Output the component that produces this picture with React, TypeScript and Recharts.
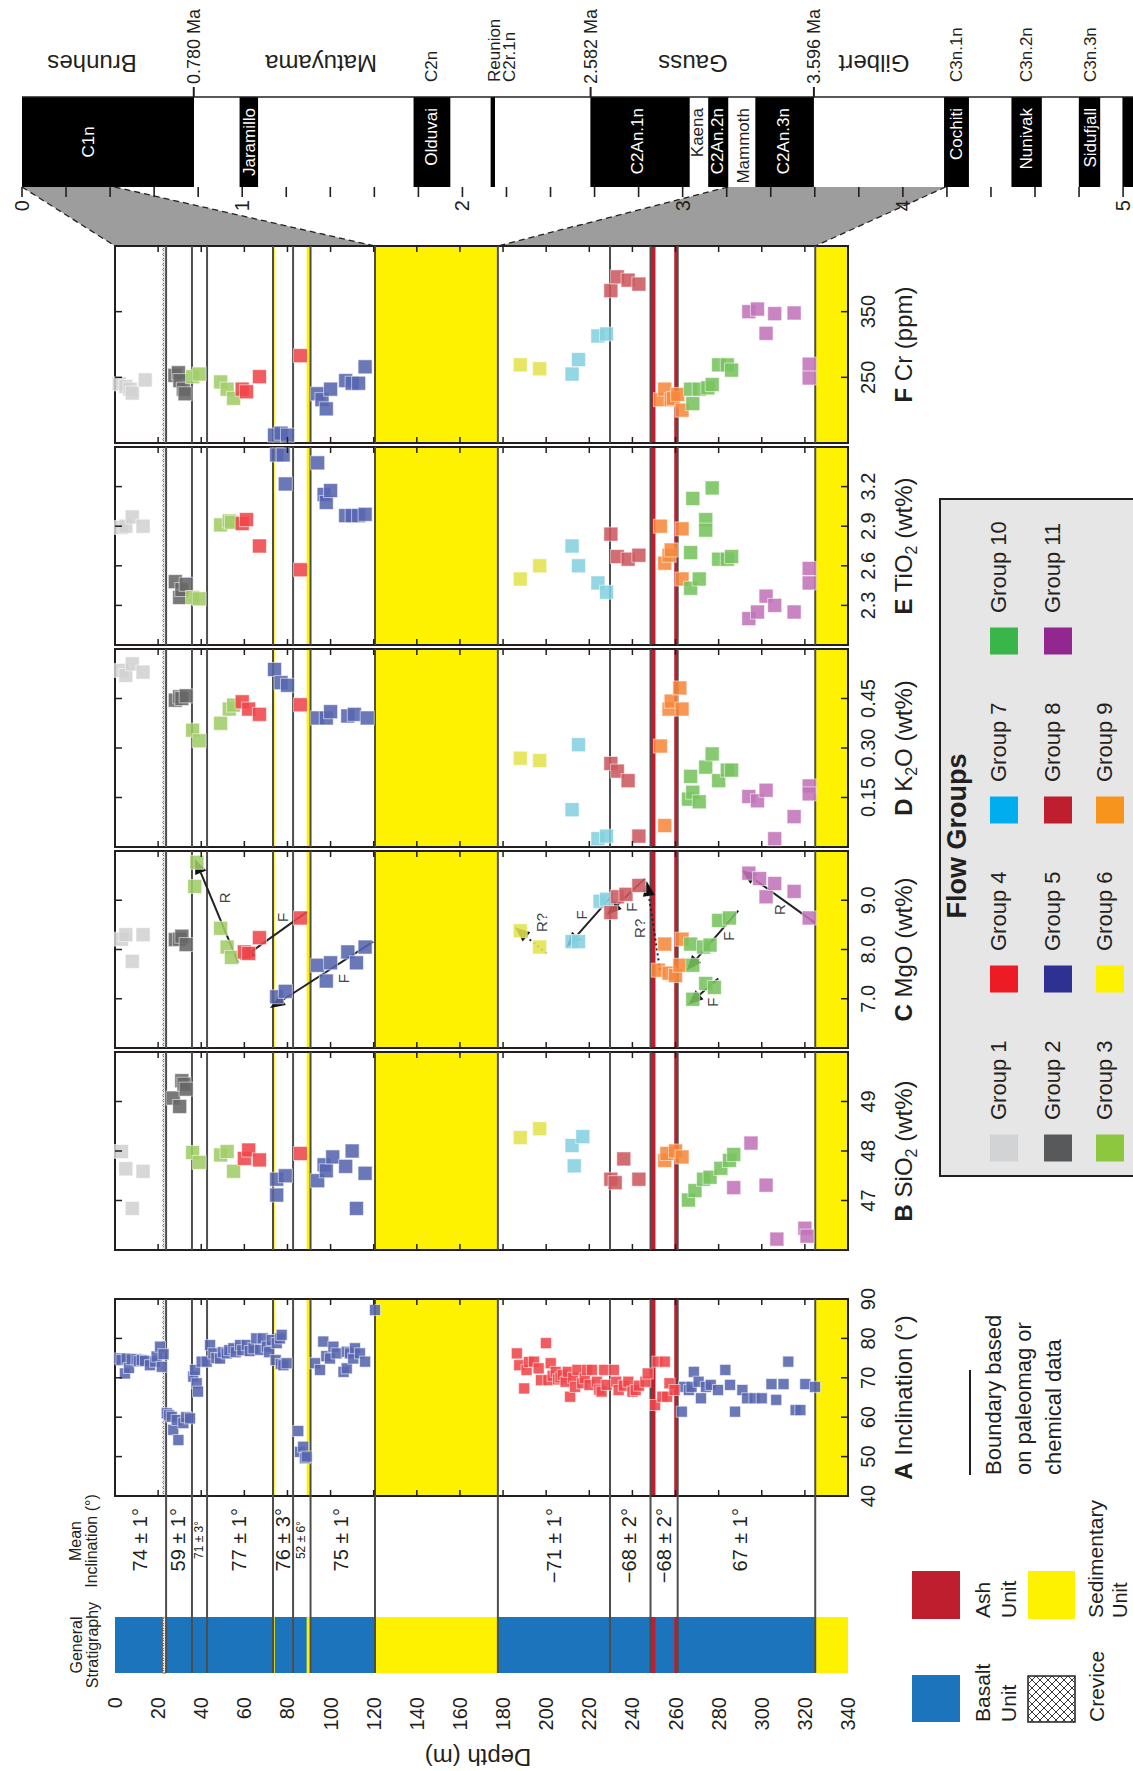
import React from 'react';
import {
  ComposedChart, ScatterChart, Scatter, Area, XAxis, YAxis,
  ReferenceArea, ReferenceLine, ReferenceDot,
} from 'recharts';

const FONT = '"Liberation Sans", Arial, Helvetica, sans-serif';
const INK = '#231f20';
const LINE = '#4d4d4d';
const YELLOW = '#fff200';
const BASALT = '#1c75bc';
const ASH = '#be1e2d';

// page frames
const DX0 = 115;
const DW = 733;
const AX0 = 22;
const AGE_MAX = 5.045;
const AGE_PX = 220.2;
const PM = 14;

// ---------------- time scale ----------------
const chronsNormal = [
  [0, 0.781], [0.988, 1.072], [1.778, 1.945], [2.128, 2.148], [2.581, 3.032],
  [3.116, 3.207], [3.33, 3.596], [4.187, 4.3], [4.493, 4.631], [4.799, 4.896], [4.997, 5.235],
];
// age, label in bar, label above bar, style
const chronLabels: [number, string, string, string][] = [
  [0.3, 'C1n', '', 'c'],
  [1.033, 'Jaramillo', '', 'w'],
  [1.858, 'Olduvai', 'C2n', 'w'],
  [2.142, '', 'Reunion|C2r.1n', 'w'],
  [2.792, 'C2An.1n', '', 'w'],
  [3.065, 'Kaena', '', 'k'],
  [3.156, 'C2An.2n', '', 'w'],
  [3.273, 'Mammoth', '', 'k'],
  [3.456, 'C2An.3n', '', 'w'],
  [4.24, 'Cochiti', 'C3n.1n', 'w'],
  [4.56, 'Nunivak', 'C3n.2n', 'w'],
  [4.85, 'Sidufjall', 'C3n.3n', 'w'],
];
const epochs: [string, number][] = [['Brunhes', 0.318], ['Matuyama', 1.358], ['Gauss', 3.047], ['Gilbert', 3.869]];
const boundaryAges = [0.78, 2.582, 3.596];
const boundaryAgeText = ['0.780 Ma', '2.582 Ma', '3.596 Ma'];
const ageTicks = Array.from({ length: 26 }, (_, i) => i / 5);

// age <-> depth ties (age range at top, depth range at bottom)
const tieAges = [[0, 0.421], [3.206, 4.194]];
const tieDepths = [[0, 120.6], [177.6, 324.8]];

// ---------------- stratigraphy ----------------
const basaltUnits = [[0, 120.6], [177.6, 324.8]];
const sedUnits = [[120.6, 177.6], [324.8, 340]];
const thinSed = [[73.1, 74.1], [88.9, 90.6]];
const ashUnits = [[248.3, 250.7], [259.4, 260.7]];
const crevice = [22.0, 23.7];
const boundaries = [23.7, 35.7, 42.7, 73.3, 82.6, 90.7, 120.6, 177.6, 229.6, 248.4, 261.0, 324.8];
const depthTicks = [20, 40, 60, 80, 100, 120, 140, 160, 180, 200, 220, 240, 260, 280, 300, 320];
const depthLabels = [0, 20, 40, 60, 80, 100, 120, 140, 160, 180, 200, 220, 240, 260, 280, 300, 320, 340];
const meanIncl: [number, string, number][] = [
  [11.6, '74 \u00b1 1\u00b0', 0], [29, '59 \u00b1 1\u00b0', 0], [39, '71 \u00b1 3\u00b0', 1],
  [57.7, '77 \u00b1 1\u00b0', 0], [77.7, '76 \u00b1 3\u00b0', 0], [86.3, '52 \u00b1 6\u00b0', 1],
  [104.6, '75 \u00b1 1\u00b0', 0], [203.6, '\u221271 \u00b1 1\u00b0', 0], [238.4, '\u221268 \u00b1 2\u00b0', 0],
  [254.6, '\u221268 \u00b1 2\u00b0', 0], [290.1, '67 \u00b1 1\u00b0', 0],
];

// ---------------- flow groups ----------------
const GROUP_FILL = ['#d1d3d4', '#58595b', '#8dc63f', '#ed1c24', '#2e3192', '#fff200', '#00aeef', '#be1e2d', '#f7941d', '#39b54a', '#92278f'];
const POINT_FILL = ['#d2d2d2', '#676767', '#a2cd68', '#ef454a', '#5765ae', '#e2e34f', '#85d0df', '#cc5a60', '#f7893b', '#78c35f', '#c274b8'];

// [group, depth m, value]
const crPts = [
  [1, 2, 240], [1, 5, 236], [1, 7, 232], [1, 8, 226], [1, 14, 246],
  [2, 27.8, 253], [2, 29.4, 257], [2, 30.1, 245], [2, 31.7, 232], [2, 32.5, 225],
  [3, 36, 251], [3, 39, 255], [3, 49, 243], [3, 52, 232], [3, 55, 218],
  [4, 59, 232], [4, 61, 228], [4, 67, 251], [4, 86, 283],
  [5, 74, 162], [5, 77, 165], [5, 80, 162], [5, 94, 225], [5, 96, 216], [5, 98, 202], [5, 100, 232],
  [5, 107, 245], [5, 110, 241], [5, 113, 241], [5, 116, 266],
  [6, 188, 269], [6, 197, 263],
  [7, 212, 255], [7, 215, 277], [7, 224, 313], [7, 228, 316],
  [8, 230, 382], [8, 233, 403], [8, 238, 398], [8, 243, 392],
  [9, 253, 216], [9, 255, 232], [9, 258, 216], [9, 259, 218], [9, 261, 224], [9, 263, 200],
  [10, 267, 232], [10, 268, 210], [10, 271, 232], [10, 275, 234], [10, 277, 239], [10, 280, 269], [10, 284, 269], [10, 286, 261],
  [11, 294, 350], [11, 298, 354], [11, 302, 317], [11, 306, 347], [11, 315, 348], [11, 322, 270], [11, 322, 249],
];
const tiPts = [
  [1, 3, 2.89], [1, 5, 2.9], [1, 8, 2.97], [1, 13, 2.9],
  [2, 28, 2.48], [2, 30, 2.36], [2, 31, 2.42], [2, 33, 2.46],
  [3, 36, 2.36], [3, 39, 2.35], [3, 49, 2.91], [3, 53, 2.94], [3, 54, 2.93],
  [4, 59, 2.92], [4, 61, 2.95], [4, 67, 2.75], [4, 86, 2.57],
  [5, 75, 3.44], [5, 78, 3.44], [5, 79, 3.22], [5, 94, 3.38], [5, 97, 3.14], [5, 98, 3.08], [5, 100, 3.17],
  [5, 107, 2.98], [5, 110, 2.98], [5, 113, 2.98], [5, 116, 2.99],
  [6, 188, 2.5], [6, 197, 2.6],
  [7, 212, 2.75], [7, 215, 2.6], [7, 224, 2.47], [7, 228, 2.4],
  [8, 230, 2.84], [8, 233, 2.67], [8, 238, 2.65], [8, 243, 2.68],
  [9, 253, 2.9], [9, 255, 2.62], [9, 257, 2.68], [9, 258, 2.72], [9, 263, 2.88], [9, 263, 2.5],
  [10, 267, 2.43], [10, 267, 2.7], [10, 268, 3.11], [10, 271, 2.5], [10, 274, 2.95], [10, 274, 2.87],
  [10, 277, 3.19], [10, 280, 2.65], [10, 284, 2.65], [10, 286, 2.67],
  [11, 294, 2.2], [11, 298, 2.25], [11, 302, 2.37], [11, 306, 2.3], [11, 315, 2.25], [11, 322, 2.58], [11, 322, 2.47],
];
const k2oPts = [
  [1, 3, 0.535], [1, 5, 0.52], [1, 8, 0.555], [1, 13, 0.53],
  [2, 28, 0.445], [2, 30, 0.455], [2, 31, 0.45], [2, 33, 0.458],
  [3, 36, 0.354], [3, 39, 0.322], [3, 49, 0.375], [3, 53, 0.418], [3, 55, 0.43],
  [4, 59, 0.44], [4, 62, 0.418], [4, 67, 0.402], [4, 86, 0.431],
  [5, 74, 0.538], [5, 77, 0.498], [5, 80, 0.49], [5, 94, 0.391], [5, 98, 0.391], [5, 100, 0.41],
  [5, 108, 0.397], [5, 111, 0.402], [5, 117, 0.391],
  [6, 188, 0.269], [6, 197, 0.262],
  [7, 212, 0.113], [7, 215, 0.31], [7, 224, 0.025], [7, 228, 0.033],
  [8, 230, 0.253], [8, 233, 0.23], [8, 238, 0.201], [8, 243, 0.033],
  [9, 253, 0.306], [9, 255, 0.065], [9, 257, 0.418], [9, 258, 0.442], [9, 262, 0.482], [9, 263, 0.418],
  [10, 266, 0.145], [10, 267, 0.214], [10, 268, 0.166], [10, 271, 0.137], [10, 274, 0.242], [10, 277, 0.282],
  [10, 280, 0.201], [10, 284, 0.233], [10, 286, 0.233],
  [11, 294, 0.153], [11, 298, 0.14], [11, 302, 0.172], [11, 306, 0.025], [11, 315, 0.092], [11, 322, 0.185], [11, 322, 0.161],
];
const mgoPts = [
  [1, 3, 8.21], [1, 5, 8.3], [1, 8, 7.76], [1, 13, 8.3],
  [2, 28, 8.2], [2, 30, 8.21], [2, 31, 8.27], [2, 33, 8.1],
  [3, 37, 9.28], [3, 38, 9.77], [3, 49, 8.43], [3, 52, 8.05], [3, 54, 7.84],
  [4, 60, 7.95], [4, 62, 7.92], [4, 67, 8.24], [4, 86, 8.64],
  [5, 75, 7.04], [5, 79, 7.15], [5, 94, 7.68], [5, 98, 7.36], [5, 100, 7.73], [5, 108, 7.95], [5, 112, 7.73], [5, 116, 8.05],
  [6, 188, 8.38], [6, 197, 8.05],
  [7, 212, 8.16], [7, 215, 8.16], [7, 225, 8.98], [7, 228, 9.02],
  [8, 230, 8.75], [8, 233, 9.07], [8, 237, 9.12], [8, 243, 9.3],
  [9, 252, 7.58], [9, 255, 8.11], [9, 257, 7.52], [9, 260, 7.47], [9, 262, 7.68], [9, 263, 8.21],
  [10, 267, 8.11], [10, 268, 7.68], [10, 268, 6.99], [10, 273, 8.05], [10, 274, 7.31], [10, 276, 8.09],
  [10, 278, 7.23], [10, 280, 8.59], [10, 285, 8.64],
  [11, 294, 9.55], [11, 299, 9.44], [11, 302, 9.07], [11, 306, 9.34], [11, 315, 9.18], [11, 322, 8.64],
];
// [fromDepth, fromMgO, toDepth, toMgO, label, labelDepth, labelMgO, dotted]
const mgoArrows: [number, number, number, number, string, number, number, number][] = [
  [57.2, 7.73, 37.1, 9.84, 'R', 50.6, 9.05, 0],
  [89.2, 8.77, 58, 7.79, 'F', 77.8, 8.65, 0],
  [119.8, 8.16, 71.9, 6.81, 'F', 105.9, 7.41, 0],
  [200.2, 7.92, 185.5, 8.45, 'R?', 197.9, 8.55, 1],
  [231.1, 9.12, 209.5, 8.05, 'F', 216.5, 8.7, 0],
  [245.8, 9.44, 228.1, 8.7, 'F', 239.7, 8.86, 0],
  [252.8, 7.58, 246.6, 9.39, 'R?', 243.3, 8.43, 1],
  [289.1, 8.79, 265.2, 7.58, 'F', 284.5, 8.27, 0],
  [279.8, 7.41, 265.9, 6.88, 'F', 277.2, 6.93, 0],
  [324.7, 8.54, 290.7, 9.61, 'R', 308.4, 8.81, 0],
];
const sio2Pts = [
  [1, 3, 47.99], [1, 5, 47.64], [1, 13, 47.59], [1, 8, 46.84],
  [2, 27, 49.07], [2, 30, 48.9], [2, 31, 49.42], [2, 32, 49.35], [2, 33, 49.25],
  [3, 36, 47.97], [3, 39, 47.77], [3, 49, 47.92], [3, 52, 47.99], [3, 55, 47.59],
  [4, 60, 47.85], [4, 62, 48.02], [4, 67, 47.82], [4, 86, 47.95],
  [5, 75, 47.43], [5, 75, 47.11], [5, 79, 47.5], [5, 94, 47.4], [5, 97, 47.72], [5, 98, 47.6], [5, 101, 47.88],
  [5, 107, 47.69], [5, 110, 48.0], [5, 112, 46.84], [5, 116, 47.55],
  [6, 188, 48.27], [6, 197, 48.45],
  [7, 212, 48.11], [7, 213, 47.7], [7, 217, 48.29],
  [8, 230, 47.43], [8, 232, 47.36], [8, 236, 47.84], [8, 243, 47.43],
  [9, 255, 47.81], [9, 256, 47.95], [9, 260, 48.0], [9, 263, 47.88],
  [10, 266, 47.01], [10, 269, 47.2], [10, 273, 47.43], [10, 276, 47.47], [10, 281, 47.65], [10, 285, 47.81], [10, 287, 47.93],
  [11, 287, 47.26], [11, 295, 48.16], [11, 302, 47.31], [11, 307, 46.22], [11, 320, 46.44], [11, 321, 46.28],
];
const inclPts = [
  [5, 2, 74.9], [5, 3, 74.5], [5, 4.6, 71.1], [5, 5.4, 74.9], [5, 6.5, 72.5], [5, 7.7, 74.7], [5, 10, 74.7],
  [5, 11, 74.2], [5, 12.4, 74.5], [5, 13.9, 74.3], [5, 16.2, 73.2], [5, 18.6, 74.1], [5, 19.3, 75.4],
  [5, 20.9, 77.9], [5, 21.7, 72.8], [5, 22.5, 76],
  [5, 24, 61], [5, 25, 60.5], [5, 26.3, 60.1], [5, 27, 56.8], [5, 28.6, 59.3], [5, 29.4, 54.2],
  [5, 31.7, 58.5], [5, 33, 60], [5, 34.8, 59.7],
  [5, 36.3, 70.3], [5, 37.1, 72], [5, 37.9, 68.6], [5, 38.5, 66.5], [5, 40.2, 74.1], [5, 42.5, 74.1], [5, 44.1, 78.3],
  [5, 45.6, 76.2], [5, 47, 75], [5, 48.7, 74.9], [5, 50, 76.5], [5, 51.8, 76.2], [5, 53, 77], [5, 54.9, 77.5],
  [5, 56, 76.5], [5, 58, 78.3], [5, 59, 77], [5, 61.1, 78.3], [5, 62.5, 76.8], [5, 64.2, 77.5], [5, 65.5, 80],
  [5, 67.3, 77.1], [5, 68.5, 80], [5, 70.4, 77.9], [5, 71.5, 76.5], [5, 72.7, 79.6], [5, 75, 78.8], [5, 76.5, 80],
  [5, 77.3, 80.9], [5, 74.5, 74.5], [5, 76.9, 73.5], [5, 78.1, 73.2], [5, 79.6, 73.7],
  [5, 85, 56.5], [5, 85.8, 51.2], [5, 87.3, 52.5], [5, 88.1, 49.6], [5, 88.9, 50],
  [5, 92.8, 73.7], [5, 95.1, 72], [5, 96.6, 79.2], [5, 98, 75.5], [5, 99.7, 74.9], [5, 101.3, 77.9],
  [5, 102.8, 76.2], [5, 106, 71.5], [5, 107.5, 72.4], [5, 107.5, 76.6], [5, 109, 76.2], [5, 110.5, 74.9],
  [5, 111.3, 77.5], [5, 113.6, 76.2], [5, 116, 74.1], [5, 120.6, 87.2],
  [4, 186.4, 76.2], [4, 187.5, 73.2], [4, 189.8, 67.3], [4, 190.9, 72], [4, 192, 74], [4, 194.3, 74.1],
  [4, 196.5, 72.4], [4, 197.6, 69.4], [4, 199.9, 78.8], [4, 201, 69.4], [4, 202.1, 73.7], [4, 203, 70.5],
  [4, 204.4, 71.5], [4, 205.5, 69.6], [4, 206.6, 70.1], [4, 207.7, 70.7], [4, 209, 69], [4, 210, 71.5],
  [4, 211.1, 65.2], [4, 212.5, 70], [4, 213.4, 67.7], [4, 214.5, 72], [4, 216.7, 68.6], [4, 217.9, 69.9],
  [4, 219, 72], [4, 220.1, 68.2], [4, 221.2, 72], [4, 223.5, 69], [4, 224.6, 67], [4, 225.7, 66.5],
  [4, 226.9, 72], [4, 228, 68.2], [4, 231.4, 72], [4, 232.5, 69], [4, 233.6, 66.9], [4, 236, 68],
  [4, 238.1, 69], [4, 240, 66.5], [4, 241.5, 66.9], [4, 243, 68], [4, 246, 69], [4, 247.1, 71.1],
  [4, 250.5, 63.1], [4, 251.6, 74.1], [4, 253.9, 65.2], [4, 255, 74.1], [4, 256.1, 65.2], [4, 257.2, 68.6], [4, 259.5, 66.9],
  [5, 262.9, 61.4], [5, 264, 67.7], [5, 266.2, 66.9], [5, 267.4, 67.7], [5, 268.5, 71.5], [5, 270.7, 69],
  [5, 271.8, 64.8], [5, 274.1, 67.7], [5, 276.3, 68.2], [5, 279.7, 66.9], [5, 283.1, 72], [5, 285.3, 68.2],
  [5, 287.6, 61.4], [5, 291, 66.9], [5, 293.2, 64.8], [5, 296.6, 64.8], [5, 300, 64.8], [5, 304.5, 68.4],
  [5, 306.7, 64.4], [5, 310.1, 68.4], [5, 312.3, 74.1], [5, 315.7, 61.8], [5, 317.9, 61.8], [5, 320.2, 68.4], [5, 324.7, 67.7],
];

// ---------------- helpers ----------------
const vText = (x: number, y: number, content: any, props: any = {}) => (
  <text x={x} y={y} transform={`rotate(-90 ${x} ${y})`} fontFamily={FONT} fill={INK} {...props}>{content}</text>
);

const square = (color: string, s: number) => (p: any) => {
  if (p.cx == null || p.cy == null) return <g />;
  return (
    <rect x={p.cx - s / 2} y={p.cy - s / 2} width={s} height={s} fill={color} fillOpacity={0.88}
      stroke="#ffffff" strokeOpacity={0.55} strokeWidth={1} />
  );
};
const nothing = () => <g />;

function Arrow(p: any) {
  const { x1, y1, x2, y2, dotted } = p;
  const ang = Math.atan2(y2 - y1, x2 - x1);
  const L = 15, H = 6;
  const bx = x2 - L * Math.cos(ang), by = y2 - L * Math.sin(ang);
  const px = -Math.sin(ang) * H, py = Math.cos(ang) * H;
  return (
    <g>
      <line x1={x1} y1={y1} x2={bx} y2={by} stroke="#222" strokeWidth={2}
        strokeDasharray={dotted ? '2 3' : undefined} />
      <polygon points={`${x2},${y2} ${bx + px},${by + py} ${bx - px},${by - py}`} fill="#111" />
    </g>
  );
}

function Panel({ top, h, domain, ticks, fmt, pts, size, arrows }: any) {
  const groups = Array.from(new Set(pts.map((p: number[]) => p[0]))) as number[];
  const R = 10 + DW;
  return (
    <div style={{ position: 'absolute', left: DX0 - 10, top: top - PM }}>
      <ScatterChart width={DW + 90} height={h + 2 * PM} margin={{ top: PM, right: 80, bottom: PM, left: 10 }}>
        <XAxis type="number" dataKey="d" domain={[0, 340]} ticks={depthTicks} interval={0} mirror
          axisLine={false} tickLine={false}
          tick={(p: any) => (
            <g>
              <line x1={p.x} x2={p.x} y1={PM} y2={PM + 6} stroke={INK} strokeWidth={1.5} />
              <line x1={p.x} x2={p.x} y1={PM + h - 6} y2={PM + h} stroke={INK} strokeWidth={1.5} />
            </g>
          )} />
        <YAxis type="number" dataKey="v" domain={domain} ticks={ticks} interval={0} orientation="right" mirror
          axisLine={false} tickLine={false}
          tick={(p: any) => (
            <g>
              <line x1={10} x2={17} y1={p.y} y2={p.y} stroke={INK} strokeWidth={1.5} />
              <line x1={R - 7} x2={R} y1={p.y} y2={p.y} stroke={INK} strokeWidth={1.5} />
              {vText(R + 27, p.y, fmt(p.payload.value), { fontSize: 20, textAnchor: 'middle' })}
            </g>
          )} />
        {sedUnits.concat(thinSed).map(([a, b], i) => (
          <ReferenceArea key={'s' + i} x1={a} x2={b} fill={YELLOW} fillOpacity={1} stroke="none" />
        ))}
        {ashUnits.map(([a, b], i) => (
          <ReferenceArea key={'a' + i} x1={a} x2={b} fill={ASH} fillOpacity={1} stroke="none" />
        ))}
        <ReferenceArea x1={crevice[0]} x2={crevice[1]} fill="url(#crev)" fillOpacity={1} stroke="none" />
        {boundaries.map((b, i) => (
          <ReferenceLine key={'b' + i} x={b} stroke={LINE} strokeWidth={2} />
        ))}
        {groups.map((g) => (
          <Scatter key={g} data={pts.filter((p: number[]) => p[0] === g).map((p: number[]) => ({ d: p[1], v: p[2] }))}
            fill={POINT_FILL[g - 1]} shape={square(POINT_FILL[g - 1], size)} isAnimationActive={false} />
        ))}
        {(arrows || []).map((a: any, i: number) => (
          <ReferenceLine key={'ar' + i} segment={[{ x: a[0], y: a[1] }, { x: a[2], y: a[3] }]}
            shape={(p: any) => <Arrow {...p} dotted={a[7]} />} />
        ))}
        {(arrows || []).map((a: any, i: number) => (
          <ReferenceDot key={'al' + i} x={a[5]} y={a[6]} r={0}
            shape={(p: any) => vText(p.cx, p.cy, a[4], { fontSize: 15, textAnchor: 'middle', dominantBaseline: 'central', fill: '#444' })} />
        ))}
        <ReferenceArea x1={0} x2={340} y1={domain[0]} y2={domain[1]} fill="none" stroke={INK} strokeWidth={2} />
      </ScatterChart>
    </div>
  );
}

const ageEq = (d: number) => (DX0 + (d * DW) / 340 - AX0) / AGE_PX;

function PolyChart() {
  return (
    <div style={{ position: 'absolute', left: 0, top: 187 }}>
      <ComposedChart layout="vertical" width={1133} height={59} margin={{ top: 0, right: 0, bottom: 0, left: AX0 }}>
        <XAxis type="number" domain={[0, AGE_MAX]} hide />
        <YAxis type="number" dataKey="y" domain={[0, 1]} hide />
        {tieAges.map((ta, i) => (
          <Area key={i} type="linear" dataKey="r" isAnimationActive={false}
            data={[{ y: 0, r: ta }, { y: 1, r: [ageEq(tieDepths[i][0]), ageEq(tieDepths[i][1])] }]}
            fill="#9d9d9d" fillOpacity={1} stroke="#222" strokeWidth={1.3} strokeDasharray="6 4" dot={false} activeDot={false} />
        ))}
      </ComposedChart>
    </div>
  );
}

function TimeChart() {
  const chronTick = (p: any) => {
    const it = chronLabels.find((c) => Math.abs(c[0] - p.payload.value) < 1e-6);
    if (!it) return <g />;
    const x = p.x + 6;
    const col = it[3] === 'k' ? INK : '#ffffff';
    return (
      <g>
        {it[1] && (it[3] === 'c'
          ? vText(x, 142, it[1], { fontSize: 17, fill: col, textAnchor: 'middle' })
          : vText(x, 108, it[1], { fontSize: 17, fill: col, textAnchor: 'end' }))}
        {it[2] && it[2].split('|').map((s, k) => (
          <g key={k}>{vText(x + k * 15, 82, s, { fontSize: 17, textAnchor: 'start' })}</g>
        ))}
      </g>
    );
  };
  const ids = ['age', 'bnd', 'chron', 'epoch'];
  return (
    <div style={{ position: 'absolute', left: 0, top: 0 }}>
      <ComposedChart width={1133} height={230} margin={{ top: 97, right: 0, bottom: 43, left: AX0 }}>
        <XAxis xAxisId="age" dataKey="a" type="number" domain={[0, AGE_MAX]} ticks={ageTicks} interval={0} mirror
          axisLine={false} tickLine={false}
          tick={(p: any) => {
            const v = p.payload.value;
            const whole = Math.abs(v - Math.round(v)) < 1e-6;
            return (
              <g>
                <line x1={p.x} x2={p.x} y1={187} y2={197} stroke={INK} strokeWidth={1.6} />
                {whole && vText(p.x + 7, 200, String(Math.round(v)), { fontSize: 20, textAnchor: 'end' })}
              </g>
            );
          }} />
        <XAxis xAxisId="bnd" dataKey="a" type="number" domain={[0, AGE_MAX]} ticks={boundaryAges} interval={0} mirror
          axisLine={false} tickLine={false}
          tick={(p: any) => {
            const k = boundaryAges.findIndex((b) => Math.abs(b - p.payload.value) < 1e-6);
            return (
              <g>
                <line x1={p.x} x2={p.x} y1={87} y2={97} stroke={INK} strokeWidth={2} />
                {vText(p.x + 6.5, 84, boundaryAgeText[k], { fontSize: 18, textAnchor: 'start' })}
              </g>
            );
          }} />
        <XAxis xAxisId="chron" dataKey="a" type="number" domain={[0, AGE_MAX]} ticks={chronLabels.map((c) => c[0])} interval={0}
          mirror axisLine={false} tickLine={false} tick={chronTick} />
        <XAxis xAxisId="epoch" dataKey="a" type="number" domain={[0, AGE_MAX]} ticks={epochs.map((e) => e[1])} interval={0}
          mirror axisLine={false} tickLine={false}
          tick={(p: any) => {
            const e = epochs.find((q) => Math.abs(q[1] - p.payload.value) < 1e-6);
            return (
              <text x={p.x} y={63} transform={`rotate(180 ${p.x} 63)`} textAnchor="middle" dominantBaseline="central"
                fontSize={24} fontFamily={FONT} fill={INK}>{e ? e[0] : ''}</text>
            );
          }} />
        <YAxis type="number" dataKey="y" domain={[0, 1]} hide />
        {chronsNormal.map(([a, b], i) => (
          <ReferenceArea key={i} xAxisId="age" x1={a} x2={Math.min(b, AGE_MAX)} fill="#000" fillOpacity={1} stroke="none" />
        ))}
        <ReferenceLine xAxisId="age" y={1} stroke={INK} strokeWidth={1.6} />
        {ids.map((id) => (
          <Scatter key={id} xAxisId={id} data={[{ a: 0, y: 0 }]} shape={nothing} isAnimationActive={false} />
        ))}
      </ComposedChart>
    </div>
  );
}

function LabelChart() {
  return (
    <div style={{ position: 'absolute', left: DX0 - 10, top: 1496 }}>
      <ScatterChart width={DW + 20} height={121} margin={{ top: 0, right: 10, bottom: 0, left: 10 }}>
        <XAxis type="number" dataKey="d" domain={[0, 340]} ticks={meanIncl.map((m) => m[0])} interval={0} mirror
          axisLine={false} tickLine={false}
          tick={(p: any) => {
            const m = meanIncl.find((q) => Math.abs(q[0] - p.payload.value) < 1e-6);
            if (!m) return <g />;
            return m[2]
              ? vText(p.x + 4, 44, m[1], { fontSize: 12, textAnchor: 'middle' })
              : vText(p.x + 7, 12, m[1], { fontSize: 20, textAnchor: 'end' });
          }} />
        <YAxis type="number" dataKey="v" domain={[0, 1]} hide />
        {boundaries.map((b, i) => (
          <ReferenceLine key={i} x={b} stroke={LINE} strokeWidth={2} />
        ))}
        <Scatter data={[{ d: 0, v: 0 }]} shape={nothing} isAnimationActive={false} />
      </ScatterChart>
    </div>
  );
}

function StratChart() {
  return (
    <div style={{ position: 'absolute', left: DX0 - 10, top: 1617 }}>
      <ScatterChart width={DW + 20} height={154} margin={{ top: 0, right: 10, bottom: 98, left: 10 }}>
        <XAxis type="number" dataKey="d" domain={[0, 340]} ticks={depthLabels} interval={0} mirror
          axisLine={false} tickLine={false}
          tick={(p: any) => vText(p.x + 7, 80, String(p.payload.value), { fontSize: 20, textAnchor: 'end' })} />
        <YAxis type="number" dataKey="v" domain={[0, 1]} hide />
        {basaltUnits.map(([a, b], i) => (
          <ReferenceArea key={'u' + i} x1={a} x2={b} fill={BASALT} fillOpacity={1} stroke="none" />
        ))}
        {sedUnits.concat(thinSed).map(([a, b], i) => (
          <ReferenceArea key={'s' + i} x1={a} x2={b} fill={YELLOW} fillOpacity={1} stroke="none" />
        ))}
        {ashUnits.map(([a, b], i) => (
          <ReferenceArea key={'a' + i} x1={a} x2={b} fill={ASH} fillOpacity={1} stroke="none" />
        ))}
        <ReferenceArea x1={crevice[0]} x2={crevice[1]} fill="url(#crev)" fillOpacity={1} stroke="#666" strokeWidth={1} />
        {boundaries.map((b, i) => (
          <ReferenceLine key={i} x={b} stroke={LINE} strokeWidth={2} />
        ))}
        <Scatter data={[{ d: 0, v: 0 }]} shape={nothing} isAnimationActive={false} />
      </ScatterChart>
    </div>
  );
}

const panels = [
  { key: 'F', top: 246, h: 197, domain: [150, 450], ticks: [250, 350], fmt: (v: number) => String(v), pts: crPts, letter: 'F', title: [' Cr (ppm)'] },
  { key: 'E', top: 447, h: 198, domain: [2.0, 3.5], ticks: [2.3, 2.6, 2.9, 3.2], fmt: (v: number) => v.toFixed(1), pts: tiPts, letter: 'E', title: [' TiO', '2', ' (wt%)'] },
  { key: 'D', top: 649, h: 198, domain: [0, 0.6], ticks: [0.15, 0.3, 0.45], fmt: (v: number) => v.toFixed(2), pts: k2oPts, letter: 'D', title: [' K', '2', 'O (wt%)'] },
  { key: 'C', top: 851, h: 197, domain: [6, 10], ticks: [7, 8, 9], fmt: (v: number) => v.toFixed(1), pts: mgoPts, letter: 'C', title: [' MgO (wt%)'], arrows: mgoArrows },
  { key: 'B', top: 1052, h: 198, domain: [46, 50], ticks: [47, 48, 49], fmt: (v: number) => String(v), pts: sio2Pts, letter: 'B', title: [' SiO', '2', ' (wt%)'] },
  { key: 'A', top: 1299, h: 197, domain: [40, 90], ticks: [40, 50, 60, 70, 80, 90], fmt: (v: number) => String(v), pts: inclPts, letter: 'A', title: [' Inclination (\u00b0)'], size: 11 },
];

function Overlay() {
  const colY = [1148, 979, 810, 641];
  const rowX = [1004, 1058, 1110];
  return (
    <svg width={1133} height={1771} style={{ position: 'absolute', left: 0, top: 0, pointerEvents: 'none' }}>
      <defs>
        <pattern id="crev" width="5" height="5" patternUnits="userSpaceOnUse">
          <rect width="5" height="5" fill="#e6e6e6" />
          <path d="M1,1 L4,4 M4,1 L1,4" stroke="#555" strokeWidth="0.8" />
        </pattern>
        <pattern id="hatch" width="8" height="8" patternUnits="userSpaceOnUse">
          <rect width="8" height="8" fill="#fff" />
          <path d="M0,0 L8,8 M8,0 L0,8" stroke="#222" strokeWidth="0.9" />
        </pattern>
      </defs>

      {panels.map((p) => {
        const cy = p.top + p.h / 2;
        return (
          <text key={p.key} x={912} y={cy} transform={`rotate(-90 912 ${cy})`} textAnchor="middle"
            fontSize={24} fontFamily={FONT} fill={INK}>
            <tspan fontWeight="bold">{p.letter}</tspan>
            {p.title.length === 1 ? (
              <tspan>{p.title[0]}</tspan>
            ) : (
              [<tspan key="a">{p.title[0]}</tspan>, <tspan key="b" dy={5} fontSize={16}>{p.title[1]}</tspan>, <tspan key="c" dy={-5}>{p.title[2]}</tspan>]
            )}
          </text>
        );
      })}

      {vText(82, 1645, 'General', { fontSize: 16, textAnchor: 'middle' })}
      {vText(98, 1645, 'Stratigraphy', { fontSize: 16, textAnchor: 'middle' })}
      {vText(81, 1541, 'Mean', { fontSize: 16, textAnchor: 'middle' })}
      {vText(97, 1541, 'Inclination (\u00b0)', { fontSize: 16, textAnchor: 'middle' })}

      <text x={478} y={1757} transform="rotate(180 478 1757)" textAnchor="middle" dominantBaseline="central"
        fontSize={24} fontFamily={FONT} fill={INK}>Depth (m)</text>

      <rect x={940} y={499} width={210} height={677} fill="#e6e6e7" stroke={INK} strokeWidth={2} />
      {vText(966, 836, 'Flow Groups', { fontSize: 27, fontWeight: 'bold', textAnchor: 'middle' })}
      {GROUP_FILL.map((c, i) => {
        const cx = rowX[i % 3];
        const cy = colY[Math.floor(i / 3)];
        return (
          <g key={i}>
            <rect x={cx - 14} y={cy - 13.5} width={28} height={27} fill={c} />
            {vText(cx + 2, cy - 28, `Group ${i + 1}`, { fontSize: 22, textAnchor: 'start' })}
          </g>
        );
      })}

      <rect x={912} y={1675} width={48} height={47} fill={BASALT} />
      {vText(990, 1722, 'Basalt', { fontSize: 21 })}
      {vText(1016, 1722, 'Unit', { fontSize: 21 })}
      <rect x={912} y={1571} width={48} height={48} fill={ASH} />
      {vText(990, 1618, 'Ash', { fontSize: 21 })}
      {vText(1016, 1618, 'Unit', { fontSize: 21 })}
      <rect x={1028} y={1676} width={47} height={46} fill="url(#hatch)" stroke={INK} strokeWidth={1.5} />
      {vText(1104, 1722, 'Crevice', { fontSize: 21 })}
      <rect x={1028} y={1571} width={47} height={48} fill={YELLOW} />
      {vText(1103, 1618, 'Sedimentary', { fontSize: 21 })}
      {vText(1127, 1618, 'Unit', { fontSize: 20 })}
      <line x1={970} x2={970} y1={1370} y2={1475} stroke={INK} strokeWidth={2} />
      {vText(1001, 1475, 'Boundary based', { fontSize: 22 })}
      {vText(1031, 1475, 'on paleomag or', { fontSize: 22 })}
      {vText(1061, 1475, 'chemical data', { fontSize: 22 })}
    </svg>
  );
}

export default function App() {
  return (
    <div style={{ position: 'absolute', left: 0, top: 0, width: 1133, height: 1771, background: '#fff', overflow: 'hidden', fontFamily: FONT }}>
      <PolyChart />
      <TimeChart />
      {panels.map((p) => (
        <Panel key={p.key} top={p.top} h={p.h} domain={p.domain} ticks={p.ticks} fmt={p.fmt}
          pts={p.pts} size={p.size || 14} arrows={p.arrows} />
      ))}
      <LabelChart />
      <StratChart />
      <Overlay />
    </div>
  );
}
